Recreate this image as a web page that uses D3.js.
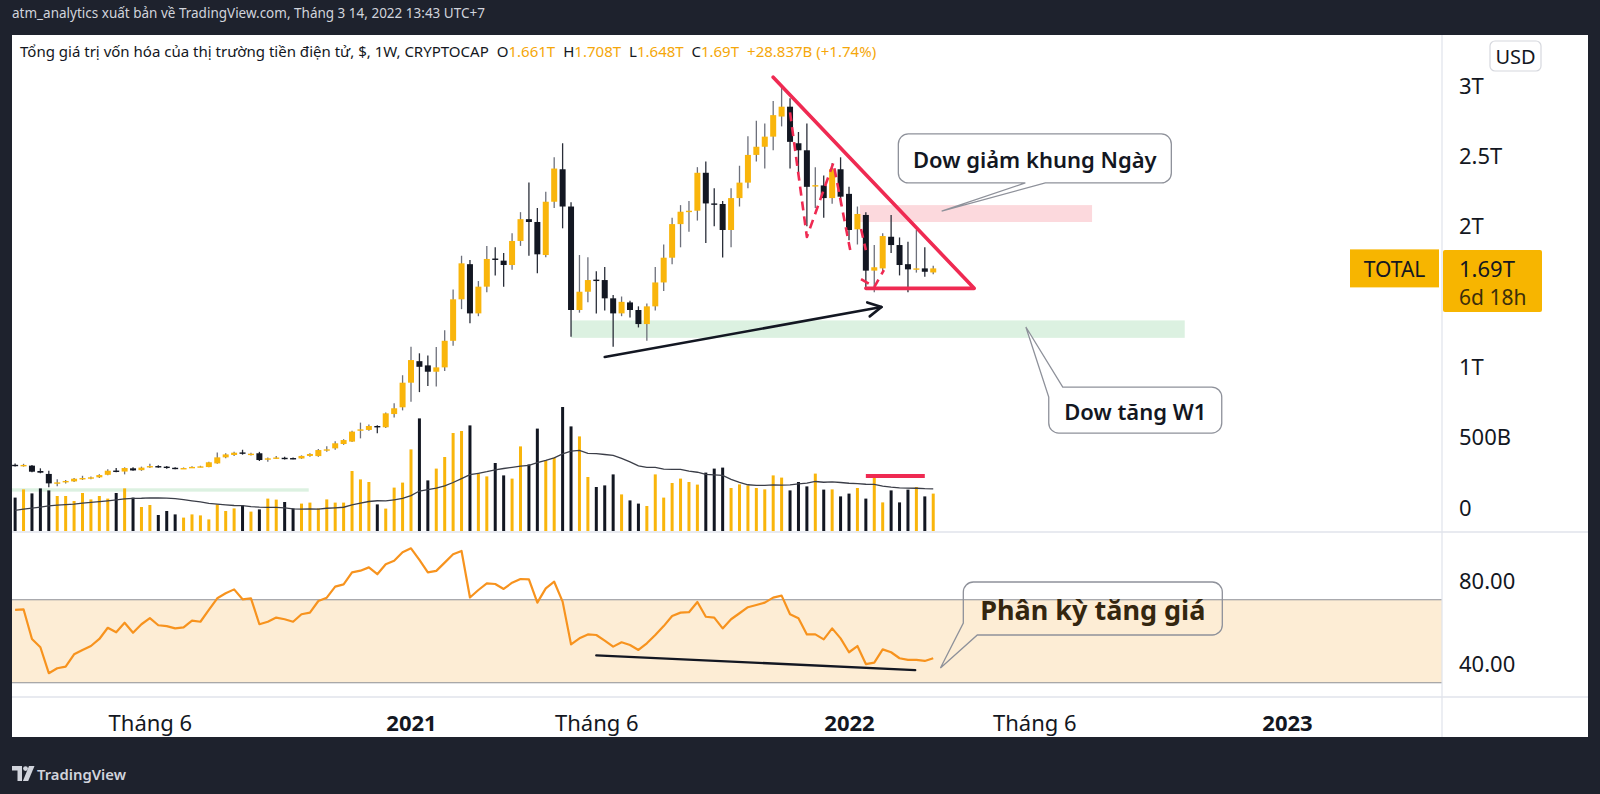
<!DOCTYPE html>
<html><head><meta charset="utf-8">
<script src="https://cdn.jsdelivr.net/npm/d3@7"></script>
<style>
html,body{margin:0;padding:0;background:#1e222d;}
svg{display:block;}
text{font-family:"Noto Sans","Open Sans",sans-serif;}
</style></head>
<body>
<svg id="chart" width="1600" height="794"></svg>
<script>
// ---------------- DATA ----------------
const firstWeek = "2020-02-10";
const lastWeek  = "2022-03-14";
const opens = [0.293,0.289,0.287,0.249,0.228,0.161,0.168,0.175,0.194,0.199,
0.204,0.222,0.252,0.245,0.268,0.255,0.276,0.284,0.280,0.272,
0.268,0.272,0.279,0.277,0.303,0.346,0.363,0.381,0.369,0.375,
0.335,0.340,0.343,0.341,0.338,0.356,0.355,0.398,0.410,0.441,
0.458,0.535,0.541,0.569,0.560,0.654,0.702,0.877,1.03,1.00,
0.955,0.986,1.175,1.47,1.72,1.37,1.56,1.76,1.745,1.714,
1.885,2.04,2.02,1.785,2.164,2.395,2.13,1.394,1.524,1.61,
1.607,1.477,1.37,1.448,1.394,1.294,1.42,1.59,1.766,2.005,
2.093,2.10,2.37,2.152,2.148,1.963,2.19,2.30,2.497,2.555,
2.627,2.77,2.84,2.58,2.53,2.275,2.28,2.19,2.395,2.22,
1.968,2.07,1.674,1.69,1.915,1.856,1.72,1.683,1.69,1.661];
const highs = [0.303,0.300,0.292,0.268,0.251,0.190,0.185,0.200,0.215,0.210,
0.225,0.262,0.270,0.275,0.275,0.280,0.300,0.290,0.285,0.276,
0.274,0.282,0.286,0.315,0.380,0.375,0.385,0.400,0.378,0.385,
0.345,0.355,0.350,0.345,0.360,0.375,0.405,0.425,0.460,0.475,
0.535,0.593,0.580,0.575,0.665,0.730,0.930,1.133,1.086,1.07,
1.13,1.25,1.54,1.78,1.75,1.60,1.85,1.84,1.80,1.94,
2.09,2.30,2.12,2.235,2.48,2.58,2.16,1.785,1.77,1.67,
1.70,1.50,1.49,1.46,1.42,1.44,1.70,1.86,2.05,2.14,
2.17,2.41,2.45,2.26,2.17,2.26,2.42,2.63,2.74,2.72,
2.88,2.98,2.90,2.66,2.72,2.41,2.35,2.44,2.48,2.27,
2.13,2.09,1.856,1.94,2.07,1.91,1.88,1.963,1.84,1.708];
const lows = [0.281,0.280,0.240,0.233,0.133,0.140,0.160,0.170,0.185,0.190,
0.200,0.218,0.240,0.225,0.250,0.250,0.270,0.272,0.265,0.262,
0.264,0.270,0.276,0.275,0.300,0.340,0.355,0.365,0.360,0.320,
0.315,0.335,0.330,0.333,0.335,0.350,0.350,0.385,0.400,0.435,
0.455,0.481,0.535,0.517,0.555,0.630,0.680,0.742,0.81,0.853,
0.85,0.96,1.14,1.40,1.30,1.35,1.52,1.64,1.56,1.68,
1.85,1.78,1.655,1.77,2.12,1.975,1.204,1.375,1.45,1.37,
1.39,1.133,1.35,1.34,1.27,1.176,1.39,1.53,1.72,1.84,
1.95,2.03,1.87,1.99,1.768,1.84,2.13,2.26,2.45,2.40,
2.53,2.70,2.40,2.36,1.99,2.12,2.05,2.15,2.14,1.89,
1.86,1.54,1.52,1.66,1.80,1.64,1.52,1.66,1.63,1.648];
const closes = [0.289,0.292,0.244,0.237,0.161,0.168,0.178,0.194,0.199,0.204,
0.220,0.251,0.249,0.270,0.253,0.273,0.284,0.280,0.272,0.268,
0.270,0.278,0.282,0.311,0.346,0.367,0.379,0.377,0.372,0.327,
0.339,0.345,0.340,0.338,0.356,0.370,0.398,0.403,0.446,0.469,
0.529,0.545,0.569,0.565,0.659,0.695,0.877,1.038,0.99,0.955,
0.986,1.175,1.47,1.726,1.37,1.56,1.757,1.75,1.714,1.885,
2.04,2.02,1.79,2.164,2.40,2.13,1.394,1.524,1.607,1.60,
1.477,1.37,1.452,1.394,1.294,1.42,1.59,1.766,2.005,2.093,
2.10,2.37,2.152,2.148,1.963,2.19,2.30,2.497,2.555,2.627,
2.78,2.84,2.59,2.53,2.27,2.282,2.19,2.395,2.20,1.963,
2.077,1.674,1.698,1.92,1.856,1.714,1.683,1.69,1.666,1.69];
// weekly volume (billion USD)
const volumes = [167,208,188,213,203,175,175,150,190,158,
175,162,190,213,167,120,130,80,100,83,
67,83,78,58,133,100,113,128,97,108,
162,157,145,113,137,142,113,158,142,142,
300,258,245,133,112,217,242,408,563,253,
312,370,490,500,528,287,273,340,278,262,
423,333,512,353,367,620,523,473,270,220,
228,283,183,153,137,125,283,167,240,262,
245,232,292,312,317,215,233,228,215,208,
278,267,203,245,223,287,207,208,173,187,
215,162,282,143,203,143,207,220,173,187];
// the 19 weeks before the first visible bar (only used by the 20-week volume MA)
const volumesPrior = [85,95,110,90,100,115,105,90,80,95,85,100,110,120,105,95,90,115,120];
const rsiValues = [65.1,65.4,51.1,47.1,34.6,37.0,37.8,43.7,45.8,47.7,
51.1,56.5,54.3,58.9,54.1,58.2,61.1,57.7,57.3,56.2,
56.7,59.9,59.4,65.1,70.7,73.1,75.0,70.2,70.7,58.2,
59.4,61.4,60.6,59.4,63.0,63.8,69.4,71.0,76.3,77.4,
83.2,84.0,85.6,82.3,87.1,88.8,92.9,94.8,89.2,83.2,
83.9,87.9,91.9,93.5,71.1,74.7,77.9,77.6,75.2,78.2,
80.0,79.8,68.6,75.5,78.7,69.1,48.5,51.4,53.3,53.0,
50.3,47.4,49.5,48.2,45.8,49.0,53.0,57.3,62.2,63.8,
64.0,68.9,61.8,61.4,56.2,60.6,63.5,66.4,67.5,68.6,
71.0,72.0,63.0,61.1,53.3,53.3,50.9,56.2,51.4,44.7,
47.7,39.0,39.7,46.1,44.7,41.8,41.0,41.0,40.5,41.8];

const priceTickValues = [0,0.5,1,2,2.5,3];
const priceTickLabels = ["0","500B","1T","2T","2.5T","3T"];
const rsiTickValues = [40,80];
const rsiTickLabels = ["40.00","80.00"];
const timeTickDates = ["2020-06-01","2021-01-04","2021-06-07","2022-01-03","2022-06-06","2023-01-02"];
const timeTickLabels = ["Tháng 6","2021","Tháng 6","2022","Tháng 6","2023"];
const timeTickIsYear = [false,true,false,true,false,true];

// drawings (date, value)
const trianglePoints = [["2021-11-01",3.05],["2022-04-17",1.548],["2022-01-17",1.548]];
const dowLegs1 = [["2021-11-15",2.80],["2021-11-29",1.913],["2021-12-21",2.44],["2022-01-04",1.82]];
const dowLegs2 = [["2022-01-13",1.97],["2022-01-17",1.82]];
const dowLegs3 = [["2022-01-13",1.614],["2022-01-24",1.557],["2022-02-01",1.678]];
const higherLowArrow = [["2021-06-14",1.06],["2022-01-30",1.415]];
const rsiDivergenceLine = [["2021-06-07",43.2],["2022-02-27",36.1]];
const volumeMarkLine = [["2022-01-17",275],["2022-03-07",275]];
const zoneStarts = ["2022-01-12","2021-05-17","2019-12-01"];
const zoneEnds   = ["2022-07-24","2022-10-09","2020-10-11"];
const zoneLows   = [2.02,1.196,0.102];
const zoneHighs  = [2.14,1.32,0.126];
const calloutTexts = ["Dow giảm khung Ngày","Dow tăng W1","Phân kỳ tăng giá"];
const calloutBoxDates = ["2022-02-13","2022-06-18","2022-04-08"];
const calloutBoxValues = [2.646,0.846,78.55];
const calloutTipDates = ["2022-03-21","2022-05-30","2022-03-20"];
const calloutTipValues = [2.098,1.273,37.1];

// ---------------- LAYOUT ----------------
const W=1600,H=794;
const L=12,R=1588,T=35,B=737,PR=1442;
const priceBottom=532, rsiBottom=697;
const UP="#f9b50b", DOWN="#131722", RED="#ef2a52";
const parse = d3.utcParse("%Y-%m-%d");

const svg = d3.select("#chart");
svg.append("rect").attr("width",W).attr("height",H).attr("fill","#1e222d");
svg.append("rect").attr("x",L).attr("y",T).attr("width",R-L).attr("height",B-T).attr("fill","#ffffff");

const defs = svg.append("defs");
defs.append("clipPath").attr("id","clipPrice").append("rect").attr("x",L).attr("y",T).attr("width",PR-L).attr("height",priceBottom-T);
defs.append("clipPath").attr("id","clipRsi").append("rect").attr("x",L).attr("y",priceBottom).attr("width",PR-L).attr("height",rsiBottom-priceBottom);

// scales
const x = d3.scaleUtc().domain([parse("2021-01-04"),parse("2022-01-03")]).range([411,849]);
const y = d3.scaleLinear().domain([0,3]).range([506,84.2]);
const yVol = d3.scaleLinear().domain([0,1000]).range([531,331]);
const yRsi = d3.scaleLinear().domain([40,80]).range([662,579]);

const dates = d3.utcMonday.range(parse(firstWeek), d3.utcDay.offset(parse(lastWeek),1));
const bars = dates.map((d,i)=>({d,o:opens[i],h:highs[i],l:lows[i],c:closes[i],v:volumes[i],r:rsiValues[i],up:closes[i]>=opens[i]}));

// ---------- price pane ----------
const gP = svg.append("g").attr("clip-path","url(#clipPrice)");
const zoneFill = ["#fcd9dd","#dcf1e1","#dcf1e1"];
zoneStarts.forEach((s,i)=>{
  gP.append("rect").attr("x",x(parse(s))).attr("width",x(parse(zoneEnds[i]))-x(parse(s)))
    .attr("y",y(zoneHighs[i])).attr("height",y(zoneLows[i])-y(zoneHighs[i])).attr("fill",zoneFill[i]);
});

// volume
gP.selectAll(".vol").data(bars).join("rect")
  .attr("x",b=>x(b.d)-1.5).attr("width",3)
  .attr("y",b=>yVol(b.v)).attr("height",b=>yVol(0)-yVol(b.v))
  .attr("fill",b=>b.up?UP:DOWN);
const allVol = volumesPrior.concat(volumes);
const ma = bars.map((b,i)=>({d:b.d, m:d3.mean(allVol.slice(i, i+20))}));
gP.append("path").datum(ma).attr("fill","none").attr("stroke","#3b3e48").attr("stroke-width",1.3)
  .attr("d",d3.line().x(p=>x(p.d)).y(p=>yVol(p.m)));

// candles
const cg = gP.selectAll(".c").data(bars).join("g");
cg.append("line").attr("x1",b=>x(b.d)).attr("x2",b=>x(b.d))
  .attr("y1",b=>y(b.h)).attr("y2",b=>y(b.l))
  .attr("stroke",b=>b.up?"#6d707b":"#2a2e39").attr("stroke-width",1.3);
cg.append("rect").attr("x",b=>x(b.d)-3).attr("width",6)
  .attr("y",b=>y(Math.max(b.o,b.c)))
  .attr("height",b=>Math.max(1.4,Math.abs(y(b.o)-y(b.c))))
  .attr("fill",b=>b.up?UP:DOWN);

// drawings
const lineP = d3.line().x(p=>x(parse(p[0]))).y(p=>y(p[1]));
gP.append("path").attr("d",lineP(trianglePoints)).attr("fill","none").attr("stroke",RED)
  .attr("stroke-width",3.6).attr("stroke-linejoin","round").attr("stroke-linecap","round");
[dowLegs1,dowLegs2,dowLegs3].forEach(pts=>{
  gP.append("path").attr("d",lineP(pts)).attr("fill","none").attr("stroke",RED)
    .attr("stroke-width",2.6).attr("stroke-dasharray","9 6").attr("stroke-linejoin","round");
});
// arrow
{
  const x1=x(parse(higherLowArrow[0][0])), y1=y(higherLowArrow[0][1]);
  const x2=x(parse(higherLowArrow[1][0])), y2=y(higherLowArrow[1][1]);
  const a=Math.atan2(y2-y1,x2-x1), len=15;
  gP.append("line").attr("x1",x1).attr("y1",y1).attr("x2",x2).attr("y2",y2)
    .attr("stroke","#131722").attr("stroke-width",2.6).attr("stroke-linecap","round");
  gP.append("path").attr("d",`M${x2+len*Math.cos(a+2.65)},${y2+len*Math.sin(a+2.65)}L${x2},${y2}L${x2+len*Math.cos(a-2.65)},${y2+len*Math.sin(a-2.65)}`)
    .attr("fill","none").attr("stroke","#131722").attr("stroke-width",2.6).attr("stroke-linecap","round").attr("stroke-linejoin","round");
}
// volume marker
gP.append("line").attr("x1",x(parse(volumeMarkLine[0][0]))).attr("x2",x(parse(volumeMarkLine[1][0])))
  .attr("y1",yVol(volumeMarkLine[0][1])).attr("y2",yVol(volumeMarkLine[1][1]))
  .attr("stroke",RED).attr("stroke-width",4);

// ---------- RSI pane ----------
const gR = svg.append("g").attr("clip-path","url(#clipRsi)");
gR.append("rect").attr("x",L).attr("width",PR-L).attr("y",yRsi(70)).attr("height",yRsi(30)-yRsi(70)).attr("fill","#fdedd5");
[70,30].forEach(v=>gR.append("line").attr("x1",L).attr("x2",PR).attr("y1",yRsi(v)).attr("y2",yRsi(v)).attr("stroke","#8d8f96").attr("stroke-width",1.2));
gR.append("path").datum(bars).attr("fill","none").attr("stroke","#f7931e").attr("stroke-width",2.2)
  .attr("stroke-linejoin","round").attr("d",d3.line().x(b=>x(b.d)).y(b=>yRsi(b.r)));
gR.append("line").attr("x1",x(parse(rsiDivergenceLine[0][0]))).attr("y1",yRsi(rsiDivergenceLine[0][1]))
  .attr("x2",x(parse(rsiDivergenceLine[1][0]))).attr("y2",yRsi(rsiDivergenceLine[1][1]))
  .attr("stroke","#131722").attr("stroke-width",2.4).attr("stroke-linecap","round");

// ---------- separators ----------
svg.append("line").attr("x1",PR).attr("x2",PR).attr("y1",T).attr("y2",B).attr("stroke","#e0e3eb").attr("stroke-width",1.2);
[priceBottom,rsiBottom].forEach(v=>svg.append("line").attr("x1",L).attr("x2",R).attr("y1",v).attr("y2",v).attr("stroke","#e0e3eb").attr("stroke-width",1.5));

// ---------- callouts ----------
function calloutPath(bx,by,w,h,r,p){
  let s="";
  const tl=p.corner==="tl";
  s+=`M${tl?bx+p.b:bx+r},${by}`;
  s+=`H${bx+w-r}A${r},${r} 0 0 1 ${bx+w},${by+r}`;
  s+=`V${by+h-r}A${r},${r} 0 0 1 ${bx+w-r},${by+h}`;
  if(p.edge==="bottom"){ s+=`H${bx+p.b}L${p.tx},${p.ty}L${bx+p.a},${by+h}H${bx+r}A${r},${r} 0 0 1 ${bx},${by+h-r}`; }
  else if(p.corner==="bl"){ s+=`H${bx+p.b}L${p.tx},${p.ty}L${bx},${by+h-p.a}`; }
  else { s+=`H${bx+r}A${r},${r} 0 0 1 ${bx},${by+h-r}`; }
  if(tl){ s+=`V${by+p.a}L${p.tx},${p.ty}Z`; }
  else { s+=`V${by+r}A${r},${r} 0 0 1 ${bx+r},${by}Z`; }
  return s;
}
const calloutStyle = [
  {w:273,h:49,scale:y,ptr:{edge:"bottom",a:127,b:147},fill:"#ffffff",size:22,weight:600,color:"#131722",font:"Open Sans"},
  {w:173,h:46,scale:y,ptr:{corner:"tl",a:10,b:14},fill:"#ffffff",size:22,weight:600,color:"#131722",font:"Open Sans"},
  {w:259,h:53,scale:yRsi,ptr:{corner:"bl",a:12,b:14},fill:"none",size:27,weight:700,color:"#34260f",font:"Noto Sans"}
];
calloutTexts.forEach((t,i)=>{
  const st=calloutStyle[i];
  const bx=x(parse(calloutBoxDates[i])), by=st.scale(calloutBoxValues[i]);
  const p=Object.assign({},st.ptr,{tx:x(parse(calloutTipDates[i])),ty:st.scale(calloutTipValues[i])});
  svg.append("path").attr("d",calloutPath(bx,by,st.w,st.h,10,p)).attr("fill",st.fill)
    .attr("stroke","#8e919a").attr("stroke-width",1.3);
  svg.append("text").attr("x",bx+st.w/2).attr("y",by+st.h/2+1).attr("text-anchor","middle")
    .attr("dominant-baseline","central").attr("font-size",st.size).attr("font-weight",st.weight)
    .attr("font-family",st.font).attr("fill",st.color).text(t);
});

// ---------- axes ----------
const axP = svg.append("g").attr("transform","translate(1459,0)")
  .call(d3.axisRight(y).tickValues(priceTickValues).tickFormat((d,i)=>priceTickLabels[i]).tickSize(0).tickPadding(0));
const axR = svg.append("g").attr("transform","translate(1459,0)")
  .call(d3.axisRight(yRsi).tickValues(rsiTickValues).tickFormat((d,i)=>rsiTickLabels[i]).tickSize(0).tickPadding(0));
[axP,axR].forEach(a=>{
  a.select(".domain").remove();
  a.selectAll("text").attr("x",0).attr("dy",null).attr("dominant-baseline","central")
    .attr("font-size",22).attr("fill","#131722").attr("font-family","Noto Sans");
});
const axT = svg.append("g").attr("transform","translate(0,722)")
  .call(d3.axisBottom(x).tickValues(timeTickDates.map(parse)).tickFormat((d,i)=>timeTickLabels[i]).tickSize(0).tickPadding(0));
axT.select(".domain").remove();
axT.selectAll("text").attr("y",0).attr("dy",null).attr("dominant-baseline","central")
  .attr("font-size",22).attr("fill","#131722").attr("font-family","Noto Sans")
  .attr("font-weight",(d,i)=>timeTickIsYear[i]?700:400);

// ---------- last value labels ----------
const lastY = y(closes[closes.length-1]);
svg.append("rect").attr("x",1350).attr("y",lastY-19).attr("width",89).attr("height",38).attr("fill","#f7b500");
svg.append("text").attr("x",1394.5).attr("y",lastY+1).attr("text-anchor","middle").attr("dominant-baseline","central")
  .attr("font-size",21).attr("fill","#131722").text("TOTAL");
svg.append("rect").attr("x",PR+1).attr("y",lastY-18.5).attr("width",99).attr("height",62).attr("rx",2).attr("fill","#f7b500");
svg.append("text").attr("x",1459).attr("y",lastY).attr("dominant-baseline","central")
  .attr("font-size",22).attr("fill","#131722").text(d3.format(".2f")(closes[closes.length-1])+"T");
svg.append("text").attr("x",1459).attr("y",lastY+29).attr("dominant-baseline","central")
  .attr("font-size",21).attr("fill","#3d2f0a").text("6d 18h");

// USD button
svg.append("rect").attr("x",1490).attr("y",41).attr("width",51).attr("height",30).attr("rx",5)
  .attr("fill","#fff").attr("stroke","#d6d8de").attr("stroke-width",1.2);
svg.append("text").attr("x",1515.5).attr("y",56.5).attr("text-anchor","middle").attr("dominant-baseline","central")
  .attr("font-size",20).attr("fill","#131722").text("USD");

// ---------- header / legend ----------
function fitWidth(sel,target){
  const w=sel.node().getComputedTextLength();
  const fs=+sel.attr("font-size");
  sel.attr("font-size",fs*target/w);
}
const hdr = svg.append("text").attr("x",12).attr("y",13).attr("dominant-baseline","central")
  .attr("font-size",14).attr("fill","#d1d4dc").attr("font-family","Roboto")
  .text("atm_analytics xuất bản về TradingView.com, Tháng 3 14, 2022 13:43 UTC+7");
fitWidth(hdr,473);

const lg = svg.append("text").attr("x",20).attr("y",51).attr("dominant-baseline","central")
  .attr("font-size",14).attr("fill","#131722").attr("font-family","Roboto");
const ORG="#f5a70a";
lg.append("tspan").text("Tổng giá trị vốn hóa của thị trường tiền điện tử, $, 1W, CRYPTOCAP");
[["O","1.661T"],["H","1.708T"],["L","1.648T"],["C","1.69T"]].forEach(([k,v])=>{
  lg.append("tspan").attr("dx",8).text(k);
  lg.append("tspan").attr("fill",ORG).text(v);
});
lg.append("tspan").attr("dx",8).attr("fill",ORG).text("+28.837B (+1.74%)");
fitWidth(lg,817);

// ---------- footer logo ----------
const lgG = svg.append("g").attr("fill","#d1d4dc");
lgG.append("path").attr("d","M12,766 h10 v15 h-4.5 v-10.5 h-5.5 z");
lgG.append("circle").attr("cx",25.5).attr("cy",768.6).attr("r",2.4);
lgG.append("path").attr("d","M29,766 h5.5 l-6.3,15 h-5.3 z");
const ft = svg.append("text").attr("x",37).attr("y",773.5).attr("dominant-baseline","central")
  .attr("font-size",15).attr("font-weight",600).attr("fill","#d1d4dc").attr("font-family","Roboto").text("TradingView");
fitWidth(ft,89);
</script>
</body></html>
